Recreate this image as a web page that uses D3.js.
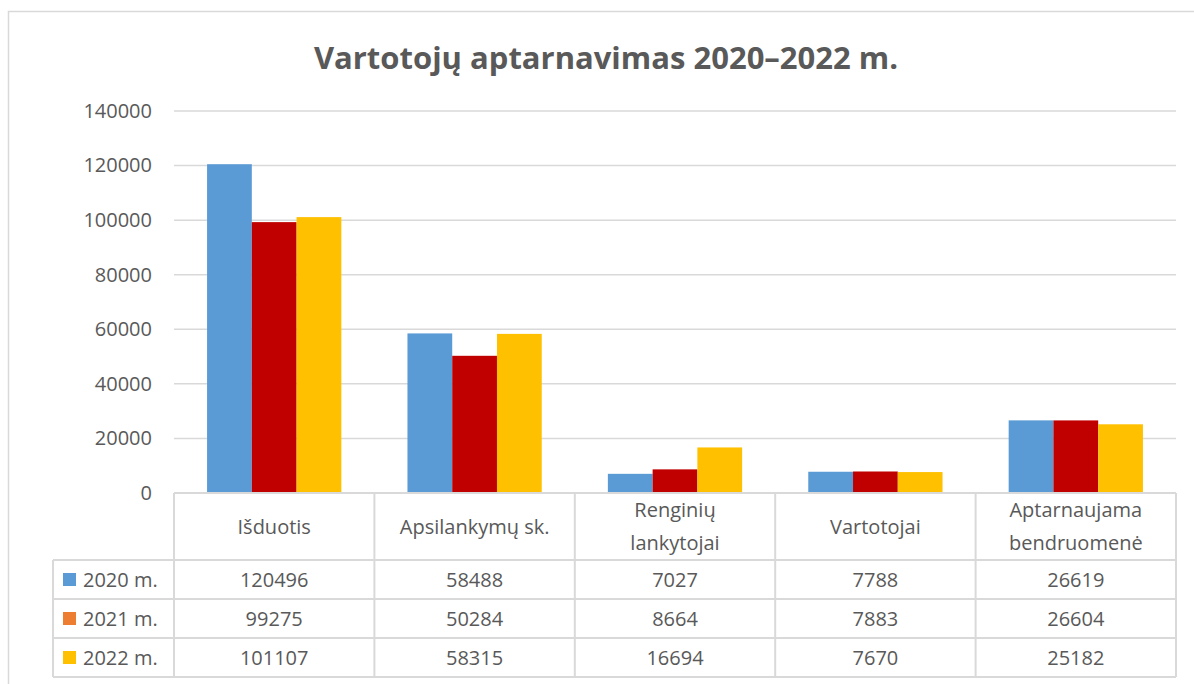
<!DOCTYPE html>
<html>
<head>
<meta charset="utf-8">
<script src="https://cdn.jsdelivr.net/npm/d3@7"></script>
<style>
  body { margin: 0; background: #fff; }
  svg text { font-family: "Open Sans", Lato, sans-serif; fill: #595959; }
</style>
</head>
<body>
<div id="chart"></div>
<script>
// data
var categories = ["Išduotis", "Apsilankymų sk.", "Renginių lankytojai", "Vartotojai", "Aptarnaujama bendruomenė"]
var categoryLines = [["Išduotis"], ["Apsilankymų sk."], ["Renginių", "lankytojai"], ["Vartotojai"], ["Aptarnaujama", "bendruomenė"]]
var seriesNames = ["2020 m.", "2021 m.", "2022 m."]
var values2020 = [120496, 58488, 7027, 7788, 26619]
var values2021 = [99275, 50284, 8664, 7883, 26604]
var values2022 = [101107, 58315, 16694, 7670, 25182]
var yTicks = [0, 20000, 40000, 60000, 80000, 100000, 120000, 140000]

var barColors = ["#5B9BD5", "#C00000", "#FFC000"]
var legendColors = ["#5B9BD5", "#ED7D31", "#FFC000"]

const width = 1194, height = 684;
const plotLeft = 174, plotRight = 1176, plotTop = 111, plotBottom = 493;
const rowTops = [493, 560, 599, 638, 677];
const labelColLeft = 53;
const gridColor = "#d9d9d9";

var seriesValues = [values2020, values2021, values2022];

const svg = d3.select("#chart").append("svg")
  .attr("width", width)
  .attr("height", height);

// outer chart frame
svg.append("rect")
  .attr("x", 8.5).attr("y", 11.5)
  .attr("width", 1200).attr("height", 700)
  .attr("fill", "none")
  .attr("stroke", gridColor)
  .attr("stroke-width", 1.5);

svg.append("text")
  .attr("x", 606).attr("y", 69)
  .attr("text-anchor", "middle")
  .style("font-size", "31px")
  .style("font-weight", "bold")
  .text("Vartotojų aptarnavimas 2020–2022 m.");

var y = d3.scaleLinear().domain([0, 140000]).range([plotBottom, plotTop]);
var x0 = d3.scaleBand().domain(categories).range([plotLeft, plotRight]).padding(0);
var x1 = d3.scaleBand().domain(seriesNames)
  .range([x0.bandwidth() * 0.165, x0.bandwidth() * 0.835]).padding(0);

// gridlines
svg.append("g").selectAll("line")
  .data(yTicks.filter(d => d > 0))
  .enter().append("line")
  .attr("x1", plotLeft).attr("x2", plotRight)
  .attr("y1", d => y(d)).attr("y2", d => y(d))
  .attr("stroke", gridColor)
  .attr("stroke-width", 1.5);

// y axis labels
var yAxis = svg.append("g")
  .attr("transform", "translate(" + plotLeft + ",0)")
  .call(d3.axisLeft(y).tickValues(yTicks).tickFormat(d3.format("d")).tickSize(0).tickPadding(22));
yAxis.select(".domain").remove();
yAxis.selectAll("text")
  .style("font-size", "20px")
  .attr("fill", "#595959")
  .style("font-family", "'Open Sans', sans-serif");

// bars
var groups = svg.append("g").selectAll("g")
  .data(categories)
  .enter().append("g")
  .attr("transform", d => "translate(" + x0(d) + ",0)");

groups.selectAll("rect")
  .data((d, i) => seriesNames.map((s, j) => ({ s: s, j: j, v: seriesValues[j][i] })))
  .enter().append("rect")
  .attr("x", d => x1(d.s))
  .attr("width", x1.bandwidth())
  .attr("y", d => y(d.v))
  .attr("height", d => plotBottom - y(d.v))
  .attr("fill", d => barColors[d.j]);

// data table
var table = svg.append("g");
// horizontal lines
table.selectAll("line.h")
  .data(rowTops)
  .enter().append("line")
  .attr("class", "h")
  .attr("x1", (d, i) => i === 0 ? plotLeft : labelColLeft)
  .attr("x2", plotRight)
  .attr("y1", d => d).attr("y2", d => d)
  .attr("stroke", gridColor).attr("stroke-width", 2);

// vertical lines
var vlines = [plotLeft].concat(categories.map(c => x0(c) + x0.bandwidth()));
table.selectAll("line.v")
  .data(vlines)
  .enter().append("line")
  .attr("class", "v")
  .attr("x1", d => d).attr("x2", d => d)
  .attr("y1", rowTops[0]).attr("y2", rowTops[4])
  .attr("stroke", gridColor).attr("stroke-width", 2);
table.append("line")
  .attr("x1", labelColLeft).attr("x2", labelColLeft)
  .attr("y1", rowTops[1]).attr("y2", rowTops[4])
  .attr("stroke", gridColor).attr("stroke-width", 2);

// header text
categoryLines.forEach(function(lines, i) {
  var cx = x0(categories[i]) + x0.bandwidth() / 2;
  var mid = (rowTops[0] + rowTops[1]) / 2;
  var lh = 33;
  lines.forEach(function(line, k) {
    table.append("text")
      .attr("x", cx)
      .attr("y", mid + (k - (lines.length - 1) / 2) * lh)
      .attr("dy", "0.36em")
      .attr("text-anchor", "middle")
      .style("font-size", "20px")
      .text(line);
  });
});

// rows: legend keys + values
seriesNames.forEach(function(s, j) {
  var mid = (rowTops[j + 1] + rowTops[j + 2]) / 2;
  table.append("rect")
    .attr("x", 63).attr("y", mid - 6.5)
    .attr("width", 13).attr("height", 13)
    .attr("fill", legendColors[j]);
  table.append("text")
    .attr("x", 83).attr("y", mid)
    .attr("dy", "0.36em")
    .style("font-size", "20px")
    .text(s);
  categories.forEach(function(c, i) {
    table.append("text")
      .attr("x", x0(c) + x0.bandwidth() / 2)
      .attr("y", mid)
      .attr("dy", "0.36em")
      .attr("text-anchor", "middle")
      .style("font-size", "20px")
      .text(seriesValues[j][i]);
  });
});
</script>
</body>
</html>
